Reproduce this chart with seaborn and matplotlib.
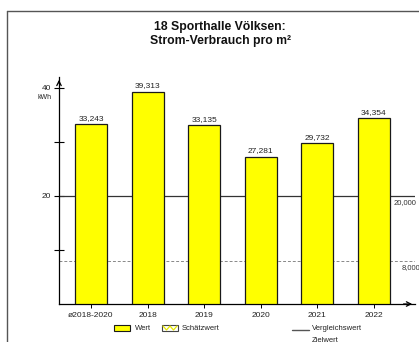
import matplotlib
matplotlib.use("Agg")
import matplotlib.pyplot as plt
import seaborn as sns
import pandas as pd
from matplotlib.patches import Rectangle
from matplotlib.lines import Line2D

# data
categories = ["ø2018-2020", "2018", "2019", "2020", "2021", "2022"]
values = [33.243, 39.313, 33.135, 27.281, 29.732, 34.354]
vergleichswert = 20.0
zielwert = 8.0


def fmt(v):
    return f"{v:.3f}".replace(".", ",")


sns.set_theme(style="white")
plt.rcParams["font.family"] = ["Liberation Sans", "DejaVu Sans"]

W, H = 419, 342
fig = plt.figure(figsize=(W / 100, H / 100), dpi=100)

# axes: x 59..415 px, y 77..304 px
ax = fig.add_axes([59 / W, (H - 304) / H, (415 - 59) / W, (304 - 77) / H])

df = pd.DataFrame({"cat": categories, "val": values})
sns.barplot(data=df, x="cat", y="val", color="#ffff00", width=0.566,
            edgecolor="#1a1a1a", linewidth=0.9, saturation=1, ax=ax, zorder=3)

ax.set_xlim(-0.566, 5.73)
ax.set_ylim(0, 42)
ax.set_xlabel("")
ax.set_ylabel("")

# reference lines
ax.axhline(vergleichswert, color="#333333", lw=0.9, zorder=1)
ax.axhline(zielwert, color="#888888", lw=0.7, ls=(0, (3, 2)), zorder=1)
ax.text(5.35, vergleichswert - 0.6, fmt(vergleichswert), ha="left", va="top",
        fontsize=5.5, color="#333333", clip_on=False)
ax.text(5.49, zielwert - 0.6, fmt(zielwert), ha="left", va="top",
        fontsize=5.5, color="#333333", clip_on=False)

# value labels
for i, v in enumerate(values):
    ax.text(i, v + 0.4, fmt(v), ha="center", va="bottom", fontsize=6, color="#222222")

# spines and arrows
for s in ["top", "right"]:
    ax.spines[s].set_visible(False)
for s in ["left", "bottom"]:
    ax.spines[s].set_color("black")
    ax.spines[s].set_linewidth(0.9)
ax.annotate("", xy=(0, 1.0), xytext=(0, 0.96), xycoords="axes fraction",
            arrowprops=dict(arrowstyle="->", color="black", lw=0.9, mutation_scale=8))
ax.annotate("", xy=(1.0, 0), xytext=(0.96, 0), xycoords="axes fraction",
            arrowprops=dict(arrowstyle="->", color="black", lw=0.9, mutation_scale=8))

ax.set_yticks([20, 40])
ax.set_yticklabels(["20", "40"])
ax.set_yticks([10, 30], minor=True)
ax.tick_params(axis="y", which="both", direction="inout", length=7, width=0.8,
               colors="black", labelsize=6, pad=2, left=True)
ax.tick_params(axis="x", direction="out", length=3, width=0.7, colors="black",
               labelsize=6, pad=3, bottom=True)
for t in ax.get_xticklabels() + ax.get_yticklabels():
    t.set_color("#222222")
ax.text(-0.02, 38.8, "kWh", transform=ax.get_yaxis_transform(), ha="right",
        va="top", fontsize=5, color="#222222")
ax.set_facecolor("white")

# title
fig.text(220 / W, 1 - 27 / H, "18 Sporthalle Völksen:", ha="center", va="center",
         fontsize=8.8, fontweight="bold", color="#111111")
fig.text(220 / W, 1 - 41 / H, "Strom-Verbrauch pro m²", ha="center", va="center",
         fontsize=8.8, fontweight="bold", color="#111111")

# outer frame
fig.add_artist(Line2D([7 / W, 7 / W], [0, 1 - 11 / H], color="#555555", lw=1.0))
fig.add_artist(Line2D([7 / W, 1], [1 - 11 / H, 1 - 11 / H], color="#555555", lw=1.0))

# legend
ly = 1 - 328 / H
fig.add_artist(Rectangle((114 / W, 1 - 331 / H), 16 / W, 6 / H, facecolor="#ffff00",
                         edgecolor="#1a1a1a", lw=0.8))
fig.text(135 / W, ly, "Wert", ha="left", va="center", fontsize=5.5, color="#222222")
fig.add_artist(Rectangle((162 / W, 1 - 331 / H), 16 / W, 6 / H, facecolor="white",
                         edgecolor="#444444", lw=0.8))
zx = [163, 166.5, 170, 173.5, 177]
zy = [326, 330, 326, 330, 326]
fig.add_artist(Line2D([x / W for x in zx], [1 - y / H for y in zy], color="#e6e600", lw=0.9))
fig.text(182 / W, ly, "Schätzwert", ha="left", va="center", fontsize=5.5, color="#222222")
fig.add_artist(Line2D([292 / W, 309 / W], [1 - 330 / H, 1 - 330 / H], color="#555555", lw=1.0))
fig.text(312 / W, ly, "Vergleichswert", ha="left", va="center", fontsize=5.5, color="#222222")
fig.text(312 / W, 1 - 340 / H, "Zielwert", ha="left", va="center", fontsize=5.5, color="#222222")

fig.savefig("out.png", dpi=100)
